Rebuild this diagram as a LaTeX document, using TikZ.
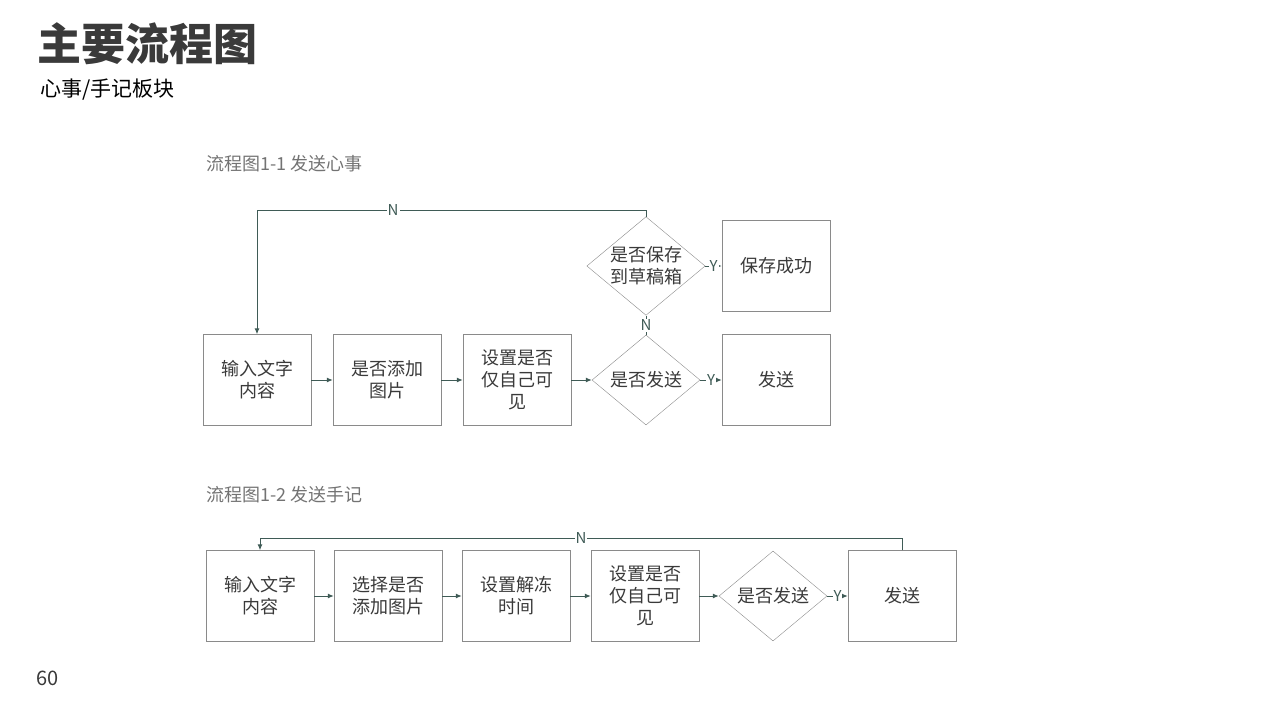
\documentclass[tikz,border=0pt]{standalone}
\usepackage{fontspec}
\setmainfont{Noto Sans CJK SC}
\usetikzlibrary{shapes.geometric,arrows.meta}
\definecolor{flowline}{HTML}{3F5B56}
\definecolor{boxline}{HTML}{8A8A8A}
\definecolor{txt}{HTML}{3A3A3A}
\tikzset{
  flowbox/.style={draw=boxline, minimum width=108pt, minimum height=91pt, align=center, text=txt, font=\fontsize{18}{22}\selectfont, inner sep=0pt},
  ask/.style={draw=boxline, diamond, minimum width=108pt, minimum height=90pt, aspect=1.2, align=center, text=txt, font=\fontsize{18}{22}\selectfont, inner sep=0pt},
  link/.style={draw=flowline, line width=1pt, -{Latex[length=6pt,width=5pt]}},
  tag/.style={fill=white, text=flowline, inner sep=1pt, font=\fontsize{15}{15}\selectfont}
}
\begin{document}
\begin{tikzpicture}[x=1pt,y=-1pt]
\useasboundingbox (0,0) rectangle (1280,720);

% Headings
\node[anchor=west, text=txt, font=\fontsize{44}{44}\selectfont\bfseries] (title) at (34,44) {主要流程图};
\node[anchor=west, text=black, font=\fontsize{21}{21}\selectfont] (sub) at (37,90) {心事/手记板块};
\node[anchor=west, text=txt, font=\fontsize{20}{20}\selectfont] (page) at (33,678) {60};
\node[anchor=west, text=gray!90!black, font=\fontsize{18}{18}\selectfont] (cap1) at (203,164) {流程图1-1 发送心事};
\node[anchor=west, text=gray!90!black, font=\fontsize{18}{18}\selectfont] (cap2) at (203,495) {流程图1-2 发送手记};

% Flow 1-1
\node[flowbox] (a1) at (257,380) {输入文字\\内容};
\node[flowbox] (a2) at (387,380) {是否添加\\图片};
\node[flowbox] (a3) at (517,380) {设置是否\\仅自己可\\见};
\node[ask] (a4) at (646,380) {是否发送};
\node[flowbox] (a5) at (776,380) {发送};
\node[ask] (a6) at (646,266) {是否保存\\到草稿箱};
\node[flowbox] (a7) at (776,266) {保存成功};
\coordinate (a8) at (646,210);
\coordinate (a9) at (257,210);

\draw[link] (a1) -- (a2);
\draw[link] (a2) -- (a3);
\draw[link] (a3) -- (a4);
\draw[link] (a4) -- node[tag] {Y} (a5);
\draw[link] (a6) -- node[tag] {Y} (a7);
\draw[draw=flowline, line width=1pt] (a4.north) -- node[tag] {N} (a6.south);
\draw[link] (a6.north) -- (a8) -- node[tag, pos=0.65] {N} (a9) -- (a1.north);

% Flow 1-2
\node[flowbox] (b1) at (260,596) {输入文字\\内容};
\node[flowbox] (b2) at (388,596) {选择是否\\添加图片};
\node[flowbox] (b3) at (516,596) {设置解冻\\时间};
\node[flowbox] (b4) at (645,596) {设置是否\\仅自己可\\见};
\node[ask] (b5) at (773,596) {是否发送};
\node[flowbox] (b6) at (902,596) {发送};
\coordinate (b7) at (902,538);
\coordinate (b8) at (260,538);

\draw[link] (b1) -- (b2);
\draw[link] (b2) -- (b3);
\draw[link] (b3) -- (b4);
\draw[link] (b4) -- (b5);
\draw[link] (b5) -- node[tag] {Y} (b6);
\draw[link] (b6.north) -- (b7) -- node[tag] {N} (b8) -- (b1.north);
\end{tikzpicture}
\end{document}
